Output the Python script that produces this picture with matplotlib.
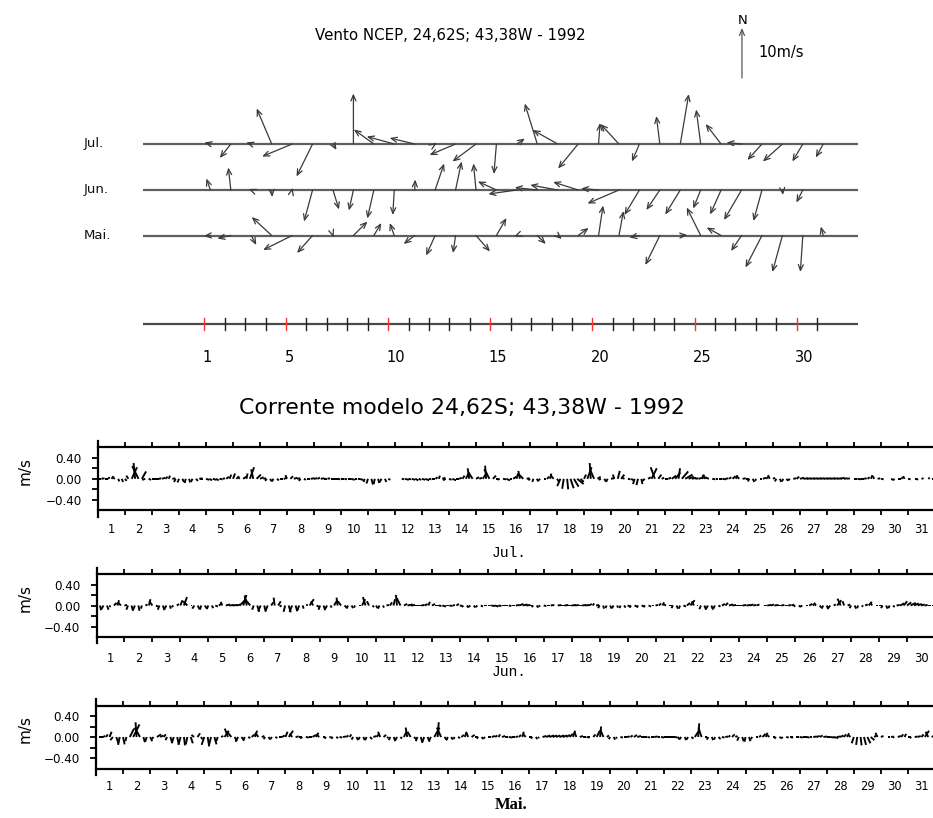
import numpy as np
import matplotlib
matplotlib.use("Agg")
import matplotlib.pyplot as plt

nan = np.nan

# ---------------- NCEP wind, one vector per day (m/s, east / north) ----------------
wind_jul_u = [-1.2, -2.2, -1.0, -3.0, -6.0, -3.2, 0.7, 0.0, -4.0, -5.5, -5.0, 0.3, -5.2, -4.7, -0.5, 1.6,
              -2.5, -5.0, -4.0, 0.3, -3.7, -1.5, -0.7, 1.7, -0.9, -3.1, -3.0, -2.9, -3.9, -2.1, -1.5]
wind_jul_v = [0.3, -2.8, 0.3, 7.1, -2.5, -6.5, -1.2, 10.1, 2.9, 1.5, 1.2, 0.2, -2.2, -3.5, -6.0, 1.1,
              8.1, 2.8, -4.9, 4.2, 4.0, -3.5, 5.6, 10.0, 6.9, 4.0, 0.3, -3.2, -3.5, -3.5, -2.7]
wind_jun_u = [-0.8, -0.5, -0.5, 0.1, 0.1, -1.7, 1.2, -0.9, -1.3, -0.3, 0.1, 1.8, 1.2, -0.5, -3.7,
              -5.7, -4.5, -5.5, -5.0, -3.5, -6.3, -3.0, -2.7, -3.0, -1.5, -2.2, -3.5, -1.7, 0.1, -1.3]
wind_jun_v = [2.3, 4.5, 0.2, -1.4, 0.4, -6.3, -3.9, -4.1, -5.7, -5.0, 2.1, 5.3, 5.7, 5.3, 1.7,
              -0.8, 0.5, 1.0, 1.6, 0.3, -2.7, -5.0, -4.0, -4.9, -3.7, -4.9, -6.0, -6.2, -1.0, -2.5]
wind_mai_u = [-1.3, -2.7, 1.0, -4.0, -5.8, -3.1, 0.1, 2.8, 1.5, -0.9, -2.2, -1.8, -0.5, 2.8, 2.0, -0.5,
              1.7, 0.8, 2.1, 0.9, 0.9, -2.0, -2.9, 1.4, -2.8, -2.9, -2.1, -3.3, -2.0, -0.5, -0.5]
wind_mai_v = [-0.1, -0.6, -1.9, 3.7, -2.9, -3.5, -0.3, 2.8, 2.5, 2.5, -1.7, -4.0, -3.5, -3.2, 3.5, -0.2,
              -1.7, -0.7, 1.5, 6.0, 4.9, -0.4, -5.9, 0.1, 5.6, 1.6, -3.1, -6.4, -7.3, -7.3, 1.8]
wind_scale_ms = 10.0
wind_rows = ["Jul.", "Jun.", "Mai."]
scale_days = list(range(1, 32))
scale_labelled = [1, 5, 10, 15, 20, 25, 30]

# ---------------- model current, 3-hourly sticks (cm/s, east / north), one row per day ----------------
cur_jul_u = [
    [5, 6, 6, 3, 4, -3, 2, 3], [3, -4, 10, -3, -12, 8, -6, 5], [6, 7, 5, 6, 4, 2, 6, -3],
    [-3, 3, -2, 2, -3, 4, 6, -5], [6, 5, 7, 5, 6, 4, 5, 3], [4, 5, -3, 6, 2, 8, -4, 8],
    [7, 5, -3, 3, -3, 4, 6, 5], [-3, 5, 7, 6, -3, 4, 6, 7], [6, 5, 7, 6, 5, 6, 7, 5],
    [6, 5, 6, 7, 5, 6, 3, -2], [-3, 3, -2, 2, -4, 3, 4, nan], [nan, nan, 5, 7, 5, 6, 6, 5],
    [6, 7, 5, 6, 4, 2, 6, -5], [5, 7, 6, 5, 4, 6, -3, -8], [6, 5, 8, -2, -10, 6, 5, -4],
    [6, 7, 5, 6, 3, -3, -8, 6], [-3, -2, 3, -4, 5, 5, 2, -6], [4, -6, -3, 2, 6, 9, 12, 6],
    [4, 8, -2, -8, 6, -4, 3, -3], [6, -3, 4, 6, -5, 5, 4, -3], [-3, 2, -4, 5, 10, -8, 6, 5],
    [6, 5, 8, 10, 3, 12, 14, 10], [8, 6, 10, 4, -6, -8, 6, 5], [6, 7, 5, 4, 6, 3, -4, 6],
    [5, -3, 3, -2, 5, 6, 4, -3], [4, -3, 3, -2, 3, -3, 6, 5], [8, 9, 8, 9, 8, 9, 8, 9],
    [8, 9, 8, 9, 8, 7, 5, nan], [6, 7, 6, 5, 4, 3, -3, 5], [5, nan, nan, 4, -3, 5, 3, -3],
    [5, nan, 4, -3, 4, nan, 3, 3]]
cur_jul_v = [
    [0, 1, 0, 3, 5, 2, -5, -6], [-4, 6, 22, 30, 24, 14, -2, -2], [0, 0, 1, 2, 4, 6, 1, -6],
    [-7, -6, -8, -7, -6, -4, 1, 0], [-2, -3, -2, -3, -1, 1, 4, 8], [10, 5, 3, 4, 10, 22, 18, 8],
    [3, 1, -4, -5, -5, -3, 0, 1], [7, 5, 2, 1, -4, -2, 0, 1], [1, 2, 1, 0, 1, 0, 0, -1],
    [0, -1, 0, -2, 0, -1, -3, -6], [-9, -11, -10, -8, -7, -6, -2, nan], [nan, nan, -1, -2, -1, -2, -3, -2],
    [-2, -3, -1, 0, 3, 6, 2, -3], [-2, -3, 0, 2, 6, 12, 20, 12], [3, 2, 12, 25, 18, 6, 0, -2],
    [-1, -3, 0, 4, 10, 15, 8, 1], [-3, -6, -5, -4, 0, 4, 10, 7], [-6, -14, -19, -20, -18, -15, -10, -6],
    [8, 22, 30, 18, 4, -2, -5, -6], [1, 8, 15, 8, 2, -1, -3, -10], [-12, -10, -4, 3, 20, 22, 8, 2],
    [0, 2, 6, 12, 20, 14, 8, 4], [2, 1, 3, 8, 7, 3, -1, 0], [0, -1, 1, 3, 5, 7, 4, 1],
    [0, -5, -6, -4, 0, 2, 4, 7], [2, -5, -6, -5, -4, -3, 1, 4], [2, 1, 1, 1, 1, 1, 1, 1],
    [1, 1, 1, 1, 2, 1, 1, nan], [0, -1, 0, 1, 3, 7, 5, 1], [-1, nan, nan, -2, -3, 0, 3, 5],
    [-1, nan, 0, -2, 1, nan, 2, 0]]

cur_jun_u = [
    [-3, 2, -4, 3, -2, 5, 3, -6], [5, -3, 3, -4, 2, -2, 4, 3], [-6, 4, -3, 3, -4, 2, -3, 4],
    [4, 6, -8, 3, -4, 3, -3, 4], [-3, 3, 5, 6, -3, 8, 9, 8], [9, 12, 6, -4, -10, -3, 4, -5],
    [3, -4, 4, -2, 5, -4, -3, 4], [-5, 3, -3, 2, 3, 8, -4, 5], [-3, 3, -4, 2, 6, -2, -6, 4],
    [-3, 3, -2, 5, 6, -5, -4, 3], [3, -3, 2, 5, 4, 3, -2, -7], [6, 10, 8, 7, 8, 6, 5, 3],
    [6, 6, 5, 7, 5, 6, 4, 5], [4, -3, 3, -4, 3, -3, 4, 5], [6, 7, 7, 6, 7, 6, 5, 6],
    [7, 8, 9, 8, 7, -3, 3, -3], [5, 6, 7, nan, 7, 8, 7, 8], [8, 7, 6, 8, 7, 5, 3, 6],
    [-3, 2, -2, 3, -3, 2, -2, 3], [6, -3, 5, -2, 6, -3, 5, 4], [5, 4, 3, -4, 6, -3, 3, -2],
    [5, 6, 8, -4, 2, -3, 3, -4], [3, -3, 4, 6, 5, 8, 7, 6], [7, 6, 8, 7, 6, 5, nan, 6],
    [7, 6, 8, 7, 6, 7, 6, 5], [-3, 4, -3, 5, 6, 5, -3, 3], [-3, 3, -4, 4, 8, -6, -3, 5],
    [-3, 3, -2, 3, 5, 6, -3, 4], [5, -3, 3, -2, 3, 6, 8, 7], [8, 10, 9, 8, 7, 6, 5, 6]]
cur_jun_v = [
    [-8, -9, -7, -8, -3, 5, 10, 6], [1, -8, -10, -9, -10, -6, 2, 12], [8, -2, -8, -9, -7, -6, -3, 3],
    [10, 16, 8, 0, -6, -7, -8, -6], [-7, -5, -2, 4, 7, 2, 1, 1], [2, 12, 20, 19, 12, -8, -12, -11],
    [-12, -10, 6, 15, 8, -2, -12, -13], [-12, -11, -9, -6, 2, 12, 8, -3], [-8, -9, -7, -4, 10, 15, 8, -4],
    [-6, -5, -4, 0, 12, 16, 8, -3], [-5, -6, -4, 1, 6, 12, 20, 14], [3, 2, 1, 0, 0, 1, 3, 7],
    [3, 0, -1, -2, 0, -1, 1, 3], [-1, -3, -4, -3, -4, -3, -2, 0], [0, -1, -2, -1, 0, 0, -1, 0],
    [1, 3, 2, 1, 0, -3, -4, -2], [-1, 0, 1, nan, 1, 0, 1, 0], [1, 1, 0, 1, 1, 3, 4, 1],
    [-5, -6, -5, -6, -5, -4, -5, -4], [-2, -4, -2, -4, -2, -3, -2, 0], [1, 4, 6, 2, 0, -5, -6, -6],
    [-2, 5, 10, 8, 0, -7, -8, -7], [-8, -6, -2, 3, 5, 2, 1, 0], [0, 1, 1, 2, 1, 2, nan, 0],
    [1, 2, 1, 0, 1, 0, 1, 2], [-2, -3, -2, 0, 3, 5, 2, -4], [-6, -7, -5, 2, 10, 13, 8, 2],
    [-5, -6, -5, -2, 2, 7, 5, 0], [0, -5, -6, -5, -3, 1, 4, 8], [6, 5, 4, 3, 2, 1, 0, 0]]

cur_mai_u = [
    [-3, 6, 5, 3, 4, -5, 4, -3], [3, -2, 8, 12, -2, -10, 3, -3], [4, -3, 8, 6, 4, -3, 3, -4],
    [3, -4, 2, -3, 4, -5, 5, 3], [-5, 3, -4, 4, -3, 4, 8, -6], [-8, 4, -5, 5, -3, 4, 6, 4],
    [-6, 5, -3, 3, -3, 4, 6, 5], [4, 8, -5, 6, 5, -4, 6, 5], [6, 5, -6, 4, -3, 5, -3, 4],
    [5, 6, 4, 3, -3, 3, -3, 3], [-3, 4, 6, 4, -4, 5, 3, -3], [3, -4, 3, 5, -3, -6, 4, -3],
    [3, -4, 4, -3, 10, 2, -8, 5], [-3, 3, -2, 4, 5, 3, -4, 6], [5, -3, 3, -3, 5, 6, 4, 3],
    [6, 5, 7, 6, 5, 4, 3, -4], [6, -3, 3, -2, 7, 8, 9, 8], [8, 9, 8, 7, 6, 4, -4, 6],
    [6, 5, -3, 4, 6, 2, -6, 4], [-3, 3, -2, 5, 6, 5, 4, 6], [7, 7, 6, 5, 6, 7, 5, 6],
    [7, 8, 7, 6, 3, -4, 3, -3], [4, 8, 2, -6, 4, -3, 3, -2], [4, 5, 6, 3, 5, 4, -3, 3],
    [-2, 3, -3, 5, 4, 6, 3, -4], [5, -3, 4, -3, 5, 6, -3, 5], [6, 7, 6, 5, 7, 6, 5, 7],
    [7, 8, 9, 7, 6, 5, 4, -3], [-4, -2, 2, 4, 6, 7, 5, -4], [5, nan, 4, 5, -3, 6, 4, 3],
    [5, -3, 6, 5, 4, 8, -5, 4]]
cur_mai_v = [
    [-6, 0, 2, 5, 10, -6, -12, -15], [-14, -8, 16, 24, 28, 18, -10, -9], [-8, -4, 5, 3, 5, -6, -10, -12],
    [-14, -15, -16, -14, -12, 4, 7, -4], [-15, -18, -16, -14, -8, 2, 12, 16], [10, -8, -9, -7, -6, -2, 5, 12],
    [8, 2, -4, -5, -4, -2, 0, 3], [10, 12, 6, 1, 0, -3, -1, 0], [4, 8, 5, 0, -3, -1, -3, -2],
    [-1, 1, 3, 5, -5, -6, -5, -6], [-6, -4, 2, 6, 10, 4, -2, -6], [-8, -7, -3, 10, 18, 10, -4, -8],
    [-10, -11, -9, -6, 18, 28, 18, -6], [-6, -5, -4, -2, 4, 8, 10, 4], [0, -3, -4, -3, 0, 2, 3, 5],
    [2, 0, -1, 0, 1, 4, 10, 5], [0, -3, -4, -2, 2, 3, 3, 3], [3, 3, 3, 4, 6, 12, 10, 2],
    [0, -1, 0, 5, 12, 20, 14, 3], [-4, -5, -3, -1, 0, 1, 3, 4], [2, 0, 0, -1, 0, 1, 0, -1],
    [0, 0, 0, -1, -4, -5, -6, -5], [-3, 12, 26, 18, 0, -5, -6, -5], [-4, -1, 1, 3, 5, 2, -7, -8],
    [-9, -8, -4, 0, 3, 6, 8, 4], [0, -3, -2, -3, -1, 0, -2, 0], [-1, 0, -1, 0, 1, 2, 3, 1],
    [0, -1, -2, 1, 3, 5, 7, 3], [-12, -15, -16, -15, -12, -6, 3, 8], [2, nan, 0, 1, -1, 2, 5, 6],
    [0, -2, 1, 2, 5, 12, 10, 2]]

y_ticks = [-0.4, 0.0, 0.4]
y_ticklabels = ["\u22120.40", "0.00", "0.40"]

# ---------------- figure ----------------
W, H, DPI = 933, 818, 100
fig = plt.figure(figsize=(W / DPI, H / DPI), dpi=DPI)
fig.patch.set_facecolor("white")


def fx(px):
    return px / W


def fy(py):
    return 1 - py / H


# ---------- wind panel ----------
PX_PER_MS = 5.0        # arrow pixels per m/s
MAI_Y = 235.5          # pixel row of the lowest baseline
wax = fig.add_axes([fx(143), fy(380), (858 - 143) / W, (380 - 5) / H])
wax.set_xlim(-2, 33)
wax.set_ylim(-(380 - MAI_Y) / PX_PER_MS, (MAI_Y - 5) / PX_PER_MS)
wax.axis("off")

row_px = {"Jul.": 144, "Jun.": 190, "Mai.": MAI_Y}
row_y = {k: (MAI_Y - p) / PX_PER_MS for k, p in row_px.items()}
wind = {"Jul.": (wind_jul_u, wind_jul_v), "Jun.": (wind_jun_u, wind_jun_v), "Mai.": (wind_mai_u, wind_mai_v)}
ARROW_COLOR = "#3a3a3a"


def wind_arrow(ax, x, y, u, v, color=ARROW_COLOR):
    ax.annotate("", xy=(x, y), xycoords="data",
                xytext=(u * PX_PER_MS, v * PX_PER_MS), textcoords="offset pixels",
                arrowprops=dict(arrowstyle="<-,head_length=0.42,head_width=0.18",
                                lw=0.9, color=color, shrinkA=0, shrinkB=0),
                annotation_clip=False)


for name in wind_rows:
    y0 = row_y[name]
    wax.plot([-2, 33], [y0, y0], color="#5f5f5f", lw=1.6, solid_capstyle="butt", zorder=1)
    fig.text(fx(84), fy(row_px[name]), name, fontsize=9.5, ha="left", va="center", color="#111111")
    u, v = wind[name]
    days = np.arange(1, len(u) + 1) + 0.3
    for d, uu, vv in zip(days, u, v):
        wind_arrow(wax, d, y0, uu, vv)

# reference arrow
sx, sy = 27.32, (MAI_Y - 78) / PX_PER_MS
wind_arrow(wax, sx, sy, 0.0, wind_scale_ms, color="#555555")
wax.text(sx + 0.05, (MAI_Y - 21) / PX_PER_MS, "N", fontsize=9.5, ha="center", va="center")
wax.text(sx + 0.8, (MAI_Y - 52) / PX_PER_MS, "10m/s", fontsize=10.5, ha="left", va="center")

# day scale
scale_y = (MAI_Y - 324) / PX_PER_MS
wax.plot([-2, 33], [scale_y, scale_y], color="#4a4a4a", lw=1.6, solid_capstyle="butt")
for d in scale_days:
    c = "#ff3030" if d in scale_labelled else "#222222"
    wax.plot([d, d], [scale_y - 1.2, scale_y + 1.2], color=c, lw=1.0)
for d in scale_labelled:
    wax.text(d - 0.08, scale_y - 6.6, str(d), fontsize=10.5, ha="left", va="center")

fig.text(fx(450), fy(35), "Vento NCEP, 24,62S; 43,38W - 1992", fontsize=10.8, ha="center", va="center")
fig.text(fx(462), fy(408), "Corrente modelo 24,62S; 43,38W - 1992", fontsize=15.8, ha="center", va="center")


# ---------- current stick panels ----------
STEPS = 8  # sticks per day


def stick_panel(left_px, top_px, u_rows, v_rows, month, label_pad_pt, month_xy, month_font):
    n_days = len(u_rows)
    height_px = 75.6
    ax = fig.add_axes([fx(left_px), fy(top_px + height_px), (935 - left_px) / W, height_px / H])
    u = np.ma.masked_invalid(np.array(u_rows, float).ravel() / 100.0)
    v = np.ma.masked_invalid(np.array(v_rows, float).ravel() / 100.0)
    t = np.arange(u.size) / STEPS
    ax.quiver(t, np.zeros_like(t), u, v, angles="uv", scale_units="y", scale=1,
              pivot="tail", units="dots", width=1.9, headwidth=0, headlength=0,
              headaxislength=0, minlength=0, color="black")
    ax.set_xlim(0, n_days)
    ax.set_ylim(-0.72, 0.72)
    ax.set_facecolor("none")
    ax.spines["right"].set_visible(False)
    ax.spines["top"].set_position(("data", 0.6))
    ax.spines["bottom"].set_position(("data", -0.6))
    for s in ax.spines.values():
        s.set_linewidth(1.6)
    ax.set_xticks(np.arange(0, n_days + 1))
    ax.set_xticks(np.arange(n_days) + 0.5, minor=True)
    ax.set_xticklabels([str(i) for i in range(1, n_days + 1)], minor=True)
    ax.tick_params(axis="x", which="major", direction="out", top=True, bottom=True,
                   length=3.3, width=1.3, labelbottom=False)
    ax.tick_params(axis="x", which="minor", length=0, pad=label_pad_pt, labelsize=8.3)
    ax.set_yticks(y_ticks)
    ax.set_yticklabels(y_ticklabels)
    ax.set_yticks([-0.2, 0.2], minor=True)
    ax.tick_params(axis="y", which="both", direction="out", length=4.3, width=1.3, pad=7.5, labelsize=8.6)
    fig.text(fx(25), fy(top_px + height_px / 2 - 8), "m/s", rotation=90, fontsize=11,
             ha="center", va="center")
    fig.text(fx(month_xy[0]), fy(month_xy[1]), month, ha="center", va="center", **month_font)
    return ax


mono = dict(family="Liberation Mono", fontsize=10.5)
serif_bold = dict(family="Liberation Serif", fontsize=12, weight="bold")

stick_panel(98, 441.0, cur_jul_u, cur_jul_v, "Jul.", 9.5, (509, 553), mono)
stick_panel(96.5, 567.7, cur_jun_u, cur_jun_v, "Jun.", 10.5, (509, 672), mono)
stick_panel(96, 699.2, cur_mai_u, cur_mai_v, "Mai.", 8.5, (511, 805), serif_bold)

fig.savefig("out.png", dpi=DPI, facecolor="white")
